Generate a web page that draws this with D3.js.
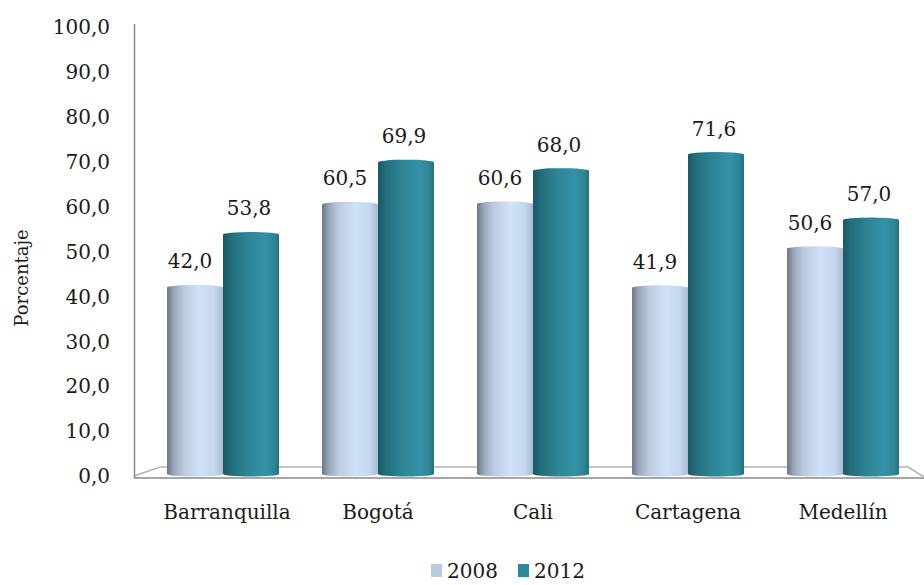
<!DOCTYPE html>
<html><head><meta charset="utf-8">
<script src="https://cdn.jsdelivr.net/npm/d3@7/dist/d3.min.js"></script>
<style>body{margin:0;background:#fff}svg{display:block}text{font-family:"DejaVu Serif",serif;fill:#1a1a1a}</style>
</head><body><svg id="c" width="924" height="585"></svg>
<script>
const categories = ["Barranquilla","Bogotá","Cali","Cartagena","Medellín"];
const years = ["2008","2012"];
const values2008 = [42.0, 60.5, 60.6, 41.9, 50.6];
const values2012 = [53.8, 69.9, 68.0, 71.6, 57.0];
const yTicks = [0,10,20,30,40,50,60,70,80,90,100];
const colors = {"2008":"#b9cbe0","2012":"#2e8a99"};

const svg = d3.select("#c");
const fmt = v => d3.format(".1f")(v).replace(".", ",");
const y = d3.scaleLinear().domain([0,100]).range([476,27]);
const x0 = d3.scaleBand().domain(categories).range([145.5,920.5]).padding(0);
const x1 = d3.scaleBand().domain(years).range([0,x0.bandwidth()]).paddingInner(0).paddingOuter(0.384);

const defs = svg.append("defs");
const g8 = defs.append("linearGradient").attr("id","g2008");
[[0,"#6c7686"],[0.12,"#98a6b8"],[0.3,"#bccbdf"],[0.6,"#d0e1f8"],[0.85,"#c4d7ef"],[1,"#a9bbd0"]].forEach(s=>g8.append("stop").attr("offset",s[0]).attr("stop-color",s[1]));
const g12 = defs.append("linearGradient").attr("id","g2012");
[[0,"#1a5866"],[0.15,"#236f7e"],[0.45,"#2d8596"],[0.75,"#3592a6"],[0.92,"#2d8496"],[1,"#22707f"]].forEach(s=>g12.append("stop").attr("offset",s[0]).attr("stop-color",s[1]));

// floor
svg.append("path").attr("d",`M134,476 L160,467 L908,467 L924,477`).attr("fill","none").attr("stroke","#b4b4b4").attr("stroke-width",1.5);
svg.append("line").attr("x1",134).attr("x2",924).attr("y1",478).attr("y2",478).attr("stroke","#a6a6a6").attr("stroke-width",2.2);
// vertical axis
svg.append("line").attr("x1",134.5).attr("x2",134.5).attr("y1",24).attr("y2",478).attr("stroke","#8c8c8c").attr("stroke-width",1.5);

// y tick labels
svg.append("g").selectAll("text").data(yTicks).join("text")
  .attr("x",110).attr("y",d=>y(d)).attr("dy","0.36em").attr("text-anchor","end")
  .attr("font-size",20).text(d=>fmt(d));

// y title
svg.append("text").attr("transform","translate(28,278) rotate(-90)").attr("text-anchor","middle")
  .attr("font-size",18).text("Porcentaje");

// bars
const data = [];
categories.forEach((c,i)=>{data.push({c,yr:"2008",v:values2008[i]});data.push({c,yr:"2012",v:values2012[i]});});
const bw = x1.bandwidth();
const base = 474, ry = 2.5;
const bars = svg.append("g").selectAll("g").data(data).join("g");
bars.append("path").attr("d",d=>{
  const xl = x0(d.c)+x1(d.yr), xr = xl+bw, t = y(d.v);
  return `M${xl},${t} L${xl},${base} A${bw/2},${ry} 0 0 0 ${xr},${base} L${xr},${t} Z`;
}).attr("fill",d=>`url(#g${d.yr})`);
bars.append("ellipse").attr("cx",d=>x0(d.c)+x1(d.yr)+bw/2).attr("cy",d=>y(d.v)).attr("rx",bw/2).attr("ry",ry)
  .attr("fill",d=>`url(#g${d.yr})`);
bars.append("text").attr("x",d=>x0(d.c)+x1(d.yr)+bw/2-(d.yr==="2008"?5:2)).attr("y",d=>y(d.v)-19)
  .attr("text-anchor","middle").attr("font-size",20).text(d=>fmt(d.v));

// category labels
svg.append("g").selectAll("text").data(categories).join("text")
  .attr("x",d=>x0(d)+x0.bandwidth()/2+(d==="Barranquilla"?4:0)).attr("y",519).attr("text-anchor","middle")
  .attr("font-size",20).text(d=>d);

// legend
const leg = svg.append("g");
const lx = [431,518];
years.forEach((yr,i)=>{
  leg.append("rect").attr("x",lx[i]).attr("y",564).attr("width",11).attr("height",13).attr("fill",colors[yr]);
  leg.append("text").attr("x",lx[i]+16).attr("y",578).attr("font-size",20).text(yr);
});
</script></body></html>
